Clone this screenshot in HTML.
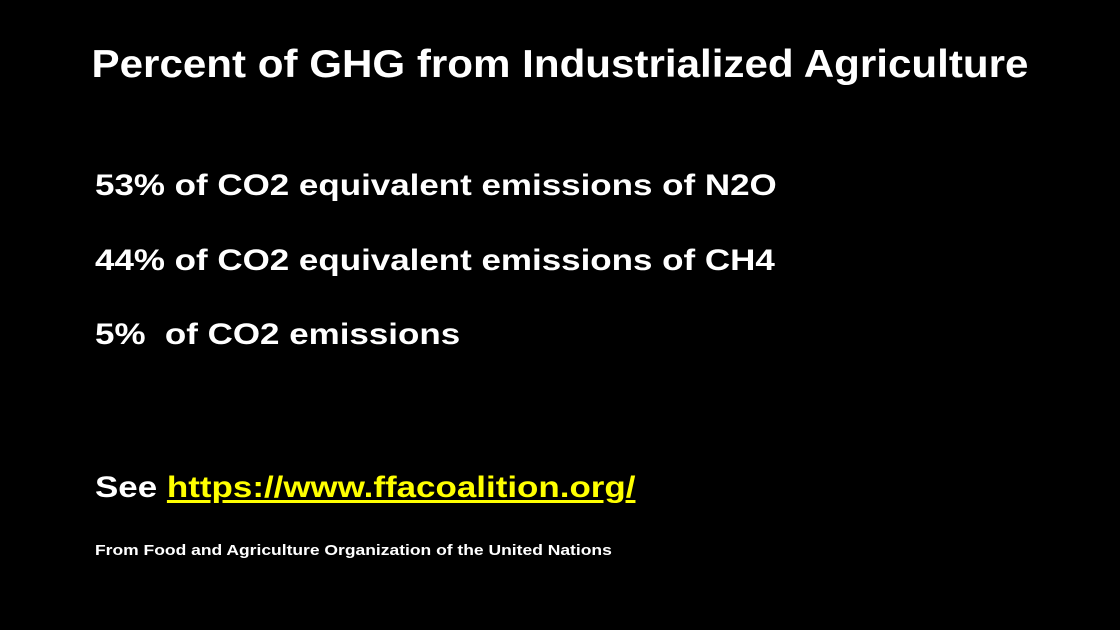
<!DOCTYPE html>
<html><head><meta charset="utf-8"><style>
html,body{margin:0;padding:0;background:#000;}
#slide{position:relative;width:1120px;height:630px;background:#000;overflow:hidden;font-family:"Liberation Sans",Arial,sans-serif;font-weight:bold;color:#fff;}
.t{position:absolute;white-space:pre;line-height:1;transform-origin:0 0;transform:scaleX(1.165);}
a{color:#ffff00;text-decoration:underline;text-decoration-thickness:3px;text-underline-offset:3px;}
</style></head><body>
<div id="slide">
<div class="t" style="left:0;width:1120px;text-align:center;top:45px;font-size:39px;transform-origin:560px 0;transform:scaleX(1.08);">Percent of GHG from Industrialized Agriculture</div>
<div class="t" style="left:95px;top:171px;font-size:30px;">53% of CO2 equivalent emissions of N2O</div>
<div class="t" style="left:95px;top:246px;font-size:30px;">44% of CO2 equivalent emissions of CH4</div>
<div class="t" style="left:95px;top:320px;font-size:30px;">5%  of CO2 emissions</div>
<div class="t" style="left:95px;top:473px;font-size:30px;">See <a href="#">https://www.ffacoalition.org/</a></div>
<div class="t" style="left:95px;top:543px;font-size:15px;">From Food and Agriculture Organization of the United Nations</div>
</div>
</body></html>
